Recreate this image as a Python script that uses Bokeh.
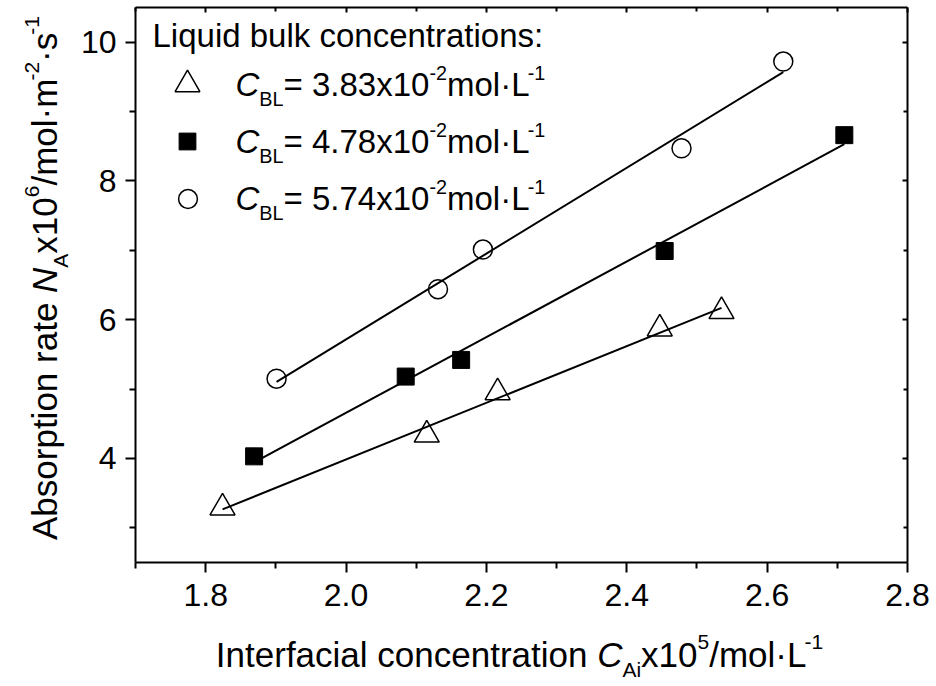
import numpy as np
from bokeh.plotting import figure
from bokeh.layouts import row, column
from bokeh.models import (Range1d, LinearAxis, FixedTicker, Label, Legend, LegendItem,
                          NumeralTickFormatter, CustomJSTickFormatter)
from bokeh.core.properties import value
from bokeh.embed import file_html
from bokeh.resources import INLINE

# ---------------- data ----------------
tri_x = [1.824, 2.115, 2.216, 2.447, 2.535]
tri_y = [3.29, 4.34, 4.95, 5.87, 6.12]
sq_x = [1.869, 2.085, 2.164, 2.454, 2.710]
sq_y = [4.03, 5.18, 5.42, 6.99, 8.66]
ci_x = [1.901, 2.131, 2.195, 2.478, 2.623]
ci_y = [5.15, 6.44, 7.01, 8.47, 9.72]
conc_labels = ["3.83", "4.78", "5.74"]
legend_heading = "Liquid bulk concentrations:"
x_ticks = [1.8, 2.0, 2.2, 2.4, 2.6, 2.8]
x_minor = [1.7, 1.9, 2.1, 2.3, 2.5, 2.7]
y_ticks = [4, 6, 8, 10]
y_minor = [3, 5, 7, 9]

FONT = "Liberation Sans"

# page layout (px): left title strip | main plot ; bottom title strip
YT_W = 75                 # width of y-title strip
MAIN_W, MAIN_H = 855, 612
XT_H = 72
TOTAL_W = YT_W + MAIN_W
# frame edges in page px
F_L, F_R, F_T, F_B = 135, 907, 7, 562

p = figure(width=MAIN_W, height=MAIN_H, output_backend="svg", toolbar_location=None,
           x_range=Range1d(1.7, 2.8), y_range=Range1d(2.5, 10.5),
           x_axis_type=None, y_axis_type=None,
           min_border_left=F_L - YT_W, min_border_right=TOTAL_W - F_R,
           min_border_top=F_T, min_border_bottom=MAIN_H - F_B)
p.outline_line_color = None
p.background_fill_color = "white"
p.border_fill_color = "white"


def style_axis(ax, outer=True):
    ax.axis_line_width = 2
    ax.axis_line_color = "black"
    ax.major_tick_line_width = 2
    ax.minor_tick_line_width = 2
    ax.major_tick_line_color = "black"
    ax.minor_tick_line_color = "black"
    if outer:
        ax.major_tick_out = 10
        ax.major_tick_in = 0
        ax.minor_tick_out = 6
        ax.minor_tick_in = 0
        ax.major_label_text_font = FONT
        ax.major_label_text_font_size = "32px"
        ax.major_label_text_color = "black"
    else:
        ax.major_tick_out = 0
        ax.major_tick_in = 5
        ax.minor_tick_out = 0
        ax.minor_tick_in = 4
        ax.major_label_text_font_size = "0px"
        ax.major_label_standoff = 0
        ax.formatter = CustomJSTickFormatter(code="return ''")


xb = LinearAxis(ticker=FixedTicker(ticks=x_ticks, minor_ticks=x_minor),
                formatter=NumeralTickFormatter(format="0.0"))
style_axis(xb)
xb.major_label_standoff = 11
p.add_layout(xb, "below")

yl = LinearAxis(ticker=FixedTicker(ticks=y_ticks, minor_ticks=y_minor),
                formatter=NumeralTickFormatter(format="0"))
style_axis(yl)
yl.major_label_standoff = 9
p.add_layout(yl, "left")

xt = LinearAxis(ticker=FixedTicker(ticks=x_ticks, minor_ticks=x_minor))
style_axis(xt, outer=False)
p.add_layout(xt, "above")

yr = LinearAxis(ticker=FixedTicker(ticks=y_ticks, minor_ticks=y_minor))
style_axis(yr, outer=False)
p.add_layout(yr, "right")

# ---------------- fit lines + markers ----------------
for xs, ys in ((tri_x, tri_y), (sq_x, sq_y), (ci_x, ci_y)):
    k, b = np.polyfit(xs, ys, 1)
    ex = [min(xs), max(xs)]
    p.line(ex, [k * v + b for v in ex], line_color="black", line_width=2)

r_tri = p.scatter(tri_x, tri_y, marker="triangle", size=25, fill_color=None,
                  line_color="black", line_width=1.5)
r_sq = p.scatter(sq_x, sq_y, marker="square", size=17, fill_color="black",
                 line_color="black", line_width=1)
r_ci = p.scatter(ci_x, ci_y, marker="circle", size=19, fill_color=None,
                 line_color="black", line_width=1.5)

# ---------------- legend swatches (one legend per row) ----------------
rows_center_y = [84, 141, 198]  # page px (text cap centre)
swatch_x = 187
for r, G, cy in ((r_tri, 62, rows_center_y[0]), (r_sq, 42, rows_center_y[1]),
                 (r_ci, 47, rows_center_y[2])):
    vx = (swatch_x - F_L) - G / 2
    vy = (F_B - cy) - G / 2
    lg = Legend(items=[LegendItem(label=value(" "), renderers=[r])],
                location=(vx, vy), padding=0, margin=0, spacing=0,
                glyph_width=G, glyph_height=G, label_height=G, label_width=0,
                label_standoff=0, label_text_font_size="1px",
                background_fill_alpha=0, border_line_alpha=0)
    p.add_layout(lg, "center")

# ---------------- title strips ----------------
# the y strip's frame is aligned with the main frame (page y 7..562)
yfig = figure(width=YT_W, height=MAIN_H, output_backend="svg", toolbar_location=None,
              x_range=Range1d(0, YT_W), y_range=Range1d(-F_B, -F_T),
              x_axis_type=None, y_axis_type=None, min_border=0)
xfig = figure(width=TOTAL_W, height=XT_H, output_backend="svg", toolbar_location=None,
              x_range=Range1d(0, TOTAL_W), y_range=Range1d(0, XT_H),
              x_axis_type=None, y_axis_type=None, min_border=0)
for f in (yfig, xfig):
    f.outline_line_color = None
    f.background_fill_color = "white"
    f.border_fill_color = "white"
    f.grid.visible = False


def place_main(px, py):
    return p, dict(x=1.7, y=10.5, x_offset=px - F_L, y_offset=-(py - F_T))


def place_yfig(px, py):
    return yfig, dict(x=px, y=-py, x_offset=0, y_offset=0)


def place_xfig(px, py):
    return xfig, dict(x=px, y=(MAIN_H + XT_H) - py, x_offset=0, y_offset=0)


# ---------------- rich text helper ----------------
AW = {' ': 278, ':': 278, '=': 584, '.': 278, '/': 278, '·': 278, '-': 333,
      'A': 667, 'B': 667, 'C': 722, 'I': 278, 'L': 556, 'N': 722,
      'a': 556, 'b': 556, 'c': 500, 'd': 556, 'e': 556, 'f': 278, 'i': 222,
      'k': 500, 'l': 222, 'm': 833, 'n': 556, 'o': 556, 'p': 556, 'q': 556,
      'r': 333, 's': 500, 't': 278, 'u': 556, 'x': 500}
SMALL = 0.6
BASE_FIX = 0.36   # observed offset of Bokeh's alphabetic baseline, in em


def tw(s, size):
    return sum(AW.get(ch, 556) for ch in s) * size / 1000.0


def run_size(kind, size):
    return size * SMALL if kind in ("sub", "sup") else size


def total_width(runs, size):
    return sum(tw(t, run_size(k, size)) for t, k in runs)


def rich(runs, x0, y0, size, placer, vertical=False, sub=0.30):
    """x0, y0: page px of the baseline start."""
    pos = 0.0
    for text, kind in runs:
        s = run_size(kind, size)
        shift = {"sub": -sub * size, "sup": 0.50 * size}.get(kind, 0.0)
        shift += BASE_FIX * s
        if vertical:
            px, py = x0 - shift, y0 - pos
            ang = np.pi / 2
        else:
            px, py = x0 + pos, y0 - shift
            ang = 0.0
        fig, kw = placer(px, py)
        lab = Label(text=text, angle=ang, text_font=FONT,
                    text_font_size=f"{s:.1f}px", text_color="black",
                    text_font_style="italic" if kind == "it" else "normal",
                    text_baseline="alphabetic", text_align="left", **kw)
        fig.add_layout(lab)
        pos += tw(text, s)


# legend heading and entries
rich([(legend_heading, "n")], 152, 46.5, 33, place_main)
for c, cy in zip(conc_labels, rows_center_y):
    rich([("C", "it"), ("BL", "sub"), ("= " + c + "x10", "n"), ("-2", "sup"),
          ("mol·L", "n"), ("-1", "sup")], 235, cy + 12, 33, place_main)

# axis titles
xt_runs = [("Interfacial concentration ", "n"), ("C", "it"), ("Ai", "sub"),
           ("x10", "n"), ("5", "sup"), ("/mol·L", "n"), ("-1", "sup")]
wx = total_width(xt_runs, 35)
rich(xt_runs, 519 - wx / 2, 667, 35, place_xfig, sub=0.27)

yt_runs = [("Absorption rate ", "n"), ("N", "it"), ("A", "sub"), ("x10", "n"),
           ("6", "sup"), ("/mol·m", "n"), ("-2", "sup"), ("·s", "n"), ("-1", "sup")]
wy = total_width(yt_runs, 35)
rich(yt_runs, 57, 277.5 + wy / 2, 35, place_yfig, vertical=True)

layout = column(row(yfig, p), xfig)
open("out.html", "w").write(file_html(layout, INLINE))
